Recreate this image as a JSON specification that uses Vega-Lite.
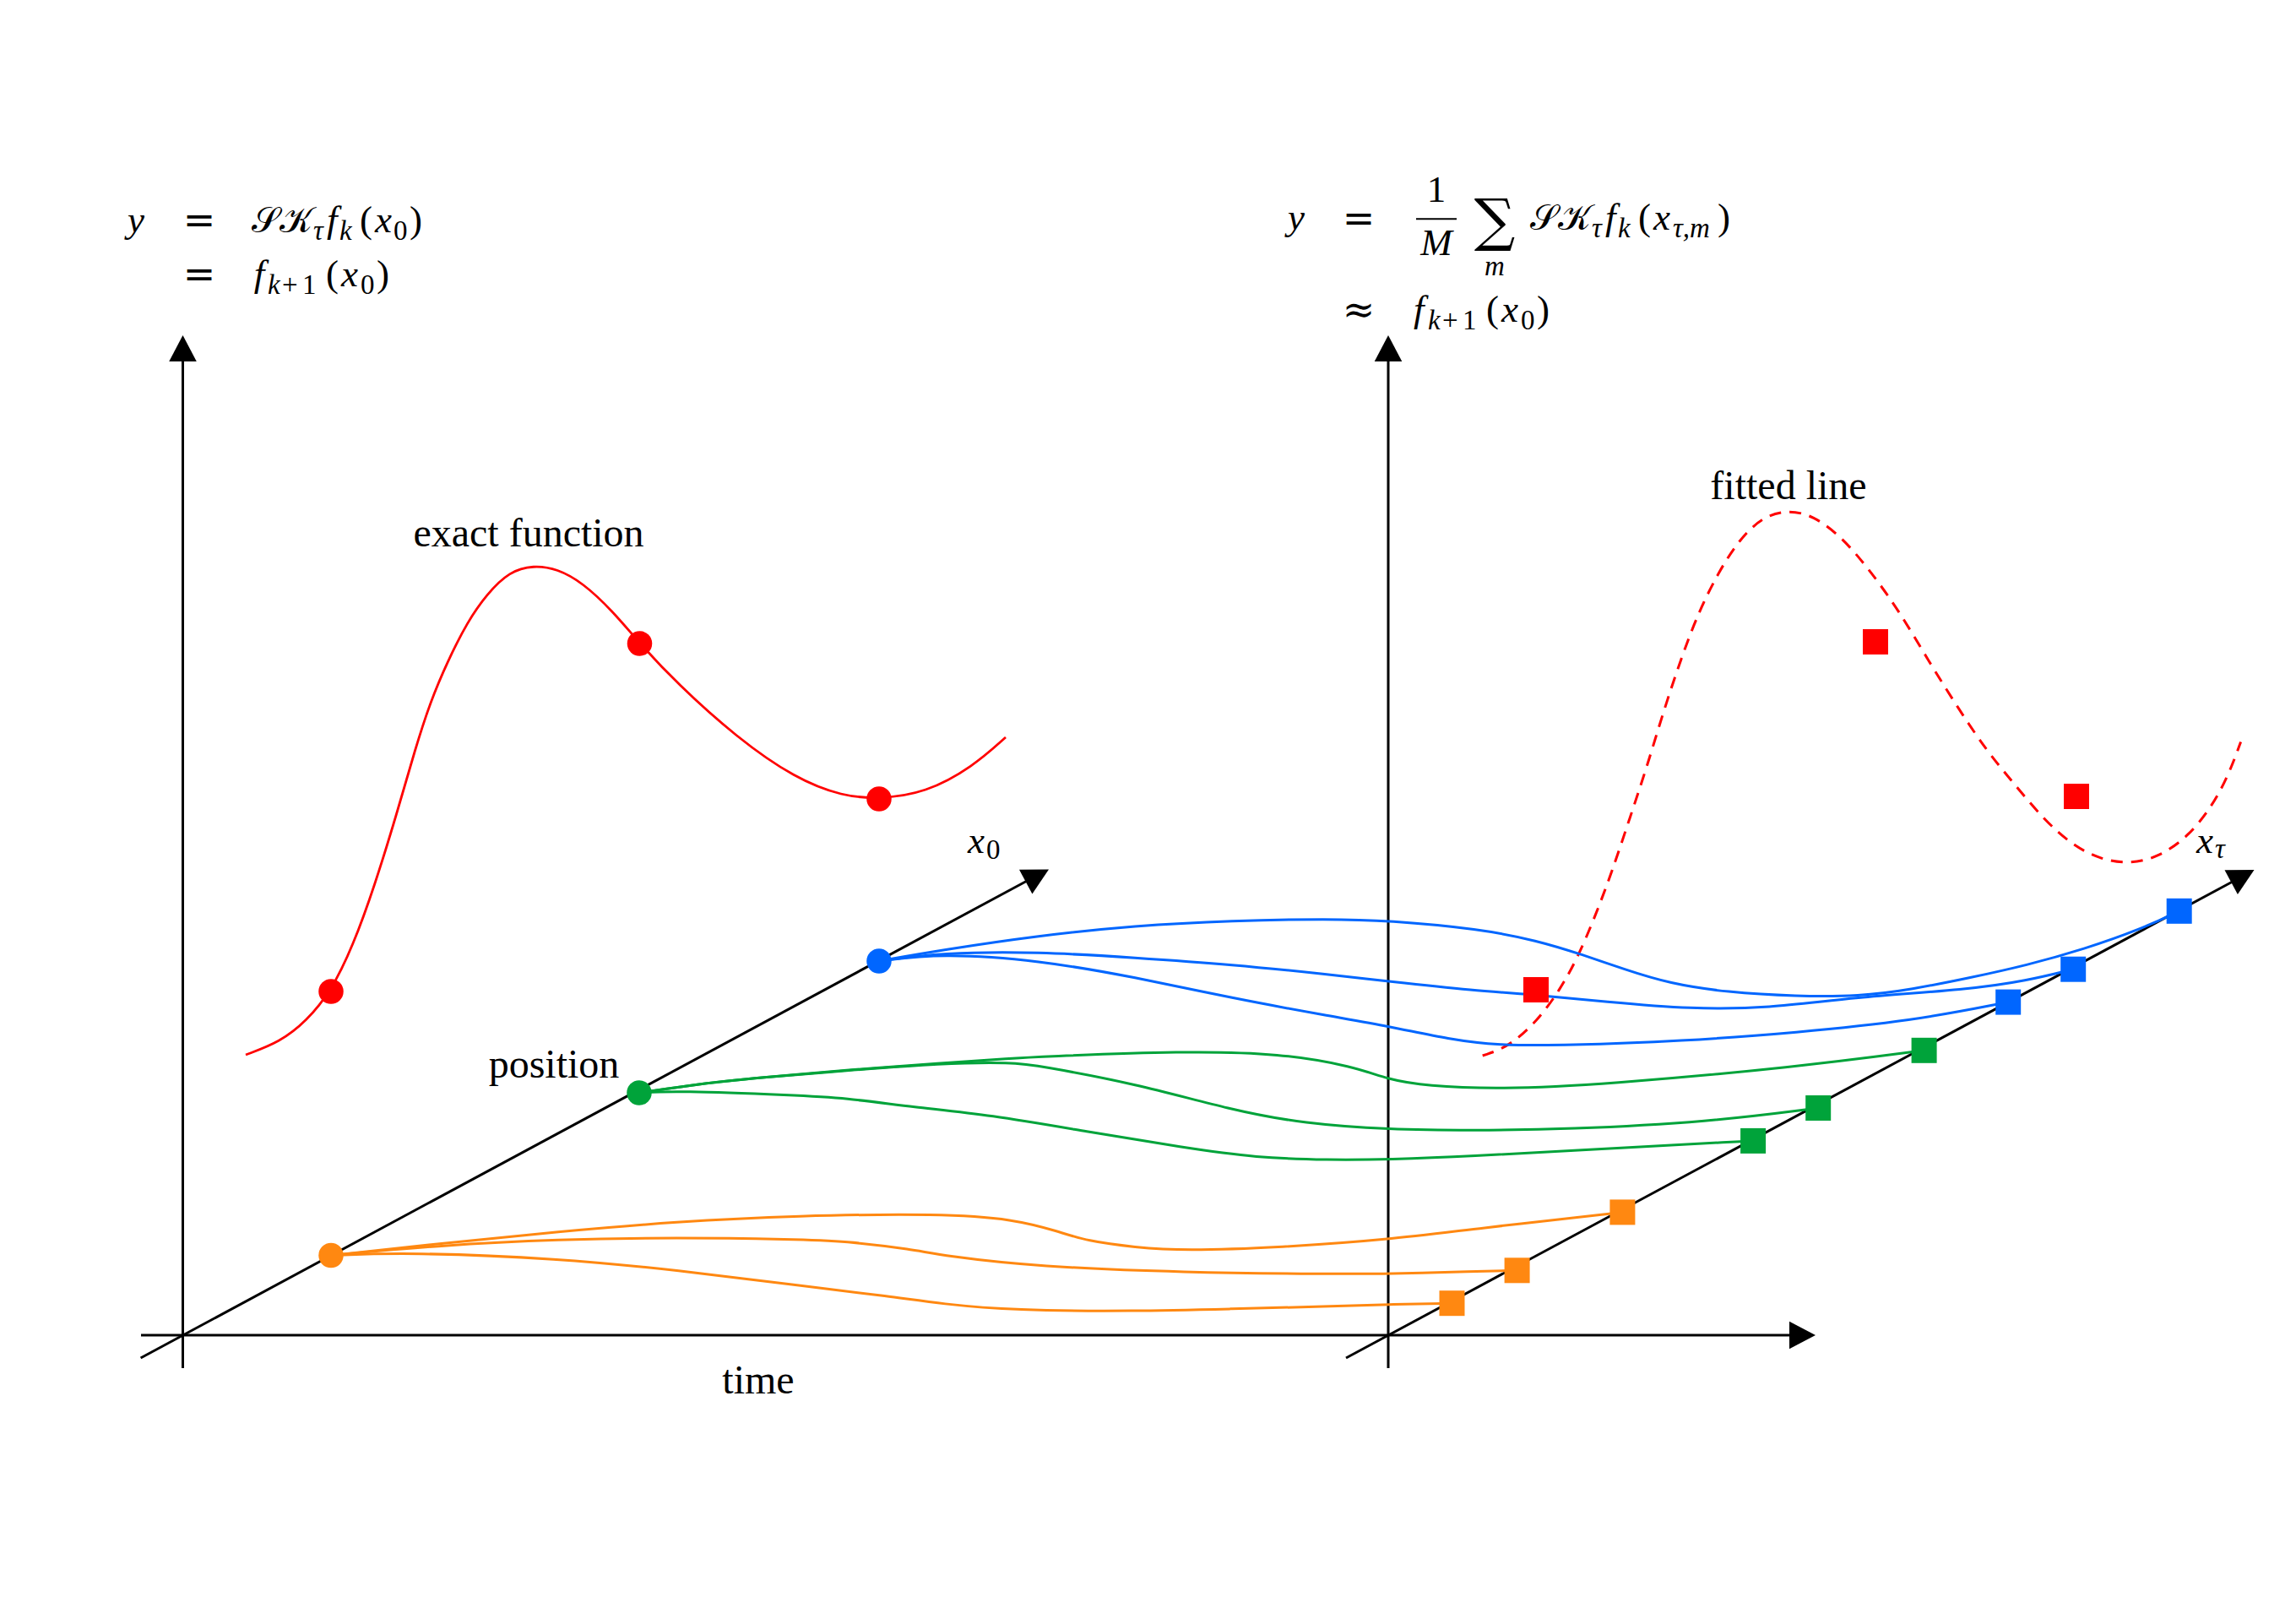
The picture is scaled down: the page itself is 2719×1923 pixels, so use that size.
{
  "$schema": "https://vega.github.io/schema/vega-lite/v6.json",
  "description": "Exact function vs fitted line from sampled trajectories (diagram)",
  "width": 2719,
  "height": 1923,
  "autosize": {"type": "fit", "contains": "padding"},
  "padding": 0,
  "background": "white",
  "config": {"view": {"stroke": null}},
  "datasets": {
    "axes": [
      {"id": "yl", "x": 216.5, "y": 1620}, {"id": "yl", "x": 216.5, "y": 425},
      {"id": "yr", "x": 1644, "y": 1620}, {"id": "yr", "x": 1644, "y": 425},
      {"id": "t", "x": 167, "y": 1581}, {"id": "t", "x": 2125, "y": 1581},
      {"id": "dl", "x": 166.6, "y": 1608}, {"id": "dl", "x": 1220, "y": 1041},
      {"id": "dr", "x": 1594, "y": 1608}, {"id": "dr", "x": 2647.5, "y": 1042}
    ],
    "heads": [
      {"x": 216.5, "y": 397, "angle": 0},
      {"x": 1644, "y": 397, "angle": 0},
      {"x": 2150, "y": 1581, "angle": 90},
      {"x": 1242, "y": 1029.5, "angle": 61.7},
      {"x": 2669.5, "y": 1030, "angle": 61.7}
    ],
    "exact": [
      {"x": 291, "y": 1249}, {"x": 331.5, "y": 1234}, {"x": 363, "y": 1209}, {"x": 392, "y": 1174},
      {"x": 418, "y": 1120}, {"x": 443.3, "y": 1050}, {"x": 470, "y": 963.3}, {"x": 491.7, "y": 886.7},
      {"x": 510, "y": 830}, {"x": 530, "y": 783.3}, {"x": 553.3, "y": 736.7}, {"x": 576.7, "y": 703.3},
      {"x": 603.3, "y": 676.7}, {"x": 631.7, "y": 669.3}, {"x": 660, "y": 673.5}, {"x": 690, "y": 690},
      {"x": 725, "y": 723}, {"x": 757.7, "y": 762}, {"x": 801.5, "y": 809}, {"x": 872, "y": 873},
      {"x": 942, "y": 922}, {"x": 998, "y": 943}, {"x": 1041, "y": 946}, {"x": 1096, "y": 939},
      {"x": 1152, "y": 908}, {"x": 1191, "y": 873}
    ],
    "fitted": [
      {"x": 1755.7, "y": 1250}, {"x": 1786.4, "y": 1239.8}, {"x": 1820.5, "y": 1209.1}, {"x": 1847.7, "y": 1171.6},
      {"x": 1868.2, "y": 1134.1}, {"x": 1888.6, "y": 1086.3}, {"x": 1909.1, "y": 1031.8}, {"x": 1929.5, "y": 970.4},
      {"x": 1950, "y": 909.1}, {"x": 1970.4, "y": 840.9}, {"x": 1990.9, "y": 779.5}, {"x": 2011.4, "y": 725},
      {"x": 2035.2, "y": 677.3}, {"x": 2059.1, "y": 639.8}, {"x": 2086.4, "y": 612.5}, {"x": 2117, "y": 603.6},
      {"x": 2147.7, "y": 610.5}, {"x": 2181.8, "y": 636.4}, {"x": 2215.9, "y": 677.3}, {"x": 2250, "y": 725},
      {"x": 2284.1, "y": 783}, {"x": 2318.2, "y": 837.5}, {"x": 2352.3, "y": 888.6}, {"x": 2386.3, "y": 929.5},
      {"x": 2420.4, "y": 970.4}, {"x": 2454.5, "y": 1001.1}, {"x": 2488.6, "y": 1018.2}, {"x": 2522.7, "y": 1022.9},
      {"x": 2556.8, "y": 1014.8}, {"x": 2590.9, "y": 990.9}, {"x": 2618.2, "y": 956.8}, {"x": 2638.6, "y": 919.3},
      {"x": 2653.6, "y": 878.4}
    ],
    "paths": [
      {"id": "o1", "grp": "orange", "x": 392, "y": 1486.5}, {"id": "o1", "grp": "orange", "x": 486, "y": 1483},
      {"id": "o1", "grp": "orange", "x": 661, "y": 1490}, {"id": "o1", "grp": "orange", "x": 801.5, "y": 1504},
      {"id": "o1", "grp": "orange", "x": 942, "y": 1521.6}, {"id": "o1", "grp": "orange", "x": 1057, "y": 1535.5},
      {"id": "o1", "grp": "orange", "x": 1115, "y": 1544}, {"id": "o1", "grp": "orange", "x": 1200, "y": 1551.7},
      {"id": "o1", "grp": "orange", "x": 1344, "y": 1552.7}, {"id": "o1", "grp": "orange", "x": 1459, "y": 1549.8},
      {"id": "o1", "grp": "orange", "x": 1574, "y": 1547}, {"id": "o1", "grp": "orange", "x": 1644, "y": 1544.5},
      {"id": "o1", "grp": "orange", "x": 1720, "y": 1543.2},

      {"id": "o2", "grp": "orange", "x": 392, "y": 1486.5}, {"id": "o2", "grp": "orange", "x": 521, "y": 1474.6},
      {"id": "o2", "grp": "orange", "x": 661, "y": 1467.5}, {"id": "o2", "grp": "orange", "x": 801.5, "y": 1465.4},
      {"id": "o2", "grp": "orange", "x": 942, "y": 1467.5}, {"id": "o2", "grp": "orange", "x": 1000, "y": 1469.5},
      {"id": "o2", "grp": "orange", "x": 1082, "y": 1479.5}, {"id": "o2", "grp": "orange", "x": 1115, "y": 1486.7},
      {"id": "o2", "grp": "orange", "x": 1230, "y": 1500}, {"id": "o2", "grp": "orange", "x": 1402, "y": 1506.8},
      {"id": "o2", "grp": "orange", "x": 1574, "y": 1508.5}, {"id": "o2", "grp": "orange", "x": 1644, "y": 1508.5},
      {"id": "o2", "grp": "orange", "x": 1746, "y": 1505.5}, {"id": "o2", "grp": "orange", "x": 1797, "y": 1504.3},

      {"id": "o3", "grp": "orange", "x": 392, "y": 1486.5}, {"id": "o3", "grp": "orange", "x": 521, "y": 1472.5},
      {"id": "o3", "grp": "orange", "x": 661, "y": 1458.4}, {"id": "o3", "grp": "orange", "x": 801.5, "y": 1446.5},
      {"id": "o3", "grp": "orange", "x": 942, "y": 1439.5}, {"id": "o3", "grp": "orange", "x": 1115, "y": 1437},
      {"id": "o3", "grp": "orange", "x": 1201, "y": 1443.6}, {"id": "o3", "grp": "orange", "x": 1253, "y": 1458},
      {"id": "o3", "grp": "orange", "x": 1287, "y": 1469.5}, {"id": "o3", "grp": "orange", "x": 1344, "y": 1477},
      {"id": "o3", "grp": "orange", "x": 1402, "y": 1481}, {"id": "o3", "grp": "orange", "x": 1517, "y": 1477},
      {"id": "o3", "grp": "orange", "x": 1644, "y": 1468}, {"id": "o3", "grp": "orange", "x": 1746, "y": 1455},
      {"id": "o3", "grp": "orange", "x": 1921.4, "y": 1435.4},

      {"id": "g1", "grp": "green", "x": 757, "y": 1294}, {"id": "g1", "grp": "green", "x": 801.5, "y": 1291.5},
      {"id": "g1", "grp": "green", "x": 942, "y": 1297}, {"id": "g1", "grp": "green", "x": 1000, "y": 1300},
      {"id": "g1", "grp": "green", "x": 1082, "y": 1311}, {"id": "g1", "grp": "green", "x": 1172, "y": 1320},
      {"id": "g1", "grp": "green", "x": 1287, "y": 1340}, {"id": "g1", "grp": "green", "x": 1402, "y": 1359},
      {"id": "g1", "grp": "green", "x": 1488, "y": 1371}, {"id": "g1", "grp": "green", "x": 1574, "y": 1373.6},
      {"id": "g1", "grp": "green", "x": 1644, "y": 1373}, {"id": "g1", "grp": "green", "x": 1746, "y": 1369},
      {"id": "g1", "grp": "green", "x": 1855, "y": 1362.5}, {"id": "g1", "grp": "green", "x": 2076.1, "y": 1350.9},

      {"id": "g2", "grp": "green", "x": 757, "y": 1294}, {"id": "g2", "grp": "green", "x": 830, "y": 1283},
      {"id": "g2", "grp": "green", "x": 900, "y": 1276}, {"id": "g2", "grp": "green", "x": 1000, "y": 1268},
      {"id": "g2", "grp": "green", "x": 1115, "y": 1259}, {"id": "g2", "grp": "green", "x": 1200, "y": 1258},
      {"id": "g2", "grp": "green", "x": 1230, "y": 1262}, {"id": "g2", "grp": "green", "x": 1344, "y": 1283},
      {"id": "g2", "grp": "green", "x": 1459, "y": 1314.5}, {"id": "g2", "grp": "green", "x": 1545, "y": 1330.6},
      {"id": "g2", "grp": "green", "x": 1644, "y": 1337.5}, {"id": "g2", "grp": "green", "x": 1746, "y": 1338.6},
      {"id": "g2", "grp": "green", "x": 1855, "y": 1337.3}, {"id": "g2", "grp": "green", "x": 2025, "y": 1328.4},
      {"id": "g2", "grp": "green", "x": 2153.2, "y": 1312},

      {"id": "g3", "grp": "green", "x": 757, "y": 1294}, {"id": "g3", "grp": "green", "x": 830, "y": 1283},
      {"id": "g3", "grp": "green", "x": 900, "y": 1276}, {"id": "g3", "grp": "green", "x": 1000, "y": 1267},
      {"id": "g3", "grp": "green", "x": 1115, "y": 1259}, {"id": "g3", "grp": "green", "x": 1200, "y": 1253},
      {"id": "g3", "grp": "green", "x": 1230, "y": 1251.4}, {"id": "g3", "grp": "green", "x": 1402, "y": 1244.5},
      {"id": "g3", "grp": "green", "x": 1517, "y": 1247.3}, {"id": "g3", "grp": "green", "x": 1603, "y": 1262.8},
      {"id": "g3", "grp": "green", "x": 1644, "y": 1278.3}, {"id": "g3", "grp": "green", "x": 1689, "y": 1285.8},
      {"id": "g3", "grp": "green", "x": 1775, "y": 1289.8}, {"id": "g3", "grp": "green", "x": 1900, "y": 1284.1},
      {"id": "g3", "grp": "green", "x": 2127, "y": 1263.6}, {"id": "g3", "grp": "green", "x": 2278.6, "y": 1243.8},

      {"id": "b1", "grp": "blue", "x": 1041, "y": 1138}, {"id": "b1", "grp": "blue", "x": 1115, "y": 1129},
      {"id": "b1", "grp": "blue", "x": 1230, "y": 1137}, {"id": "b1", "grp": "blue", "x": 1344, "y": 1157},
      {"id": "b1", "grp": "blue", "x": 1459, "y": 1182}, {"id": "b1", "grp": "blue", "x": 1574, "y": 1203},
      {"id": "b1", "grp": "blue", "x": 1644, "y": 1215}, {"id": "b1", "grp": "blue", "x": 1718, "y": 1231},
      {"id": "b1", "grp": "blue", "x": 1773, "y": 1237.7}, {"id": "b1", "grp": "blue", "x": 1855, "y": 1238},
      {"id": "b1", "grp": "blue", "x": 1991, "y": 1233}, {"id": "b1", "grp": "blue", "x": 2127, "y": 1222.7},
      {"id": "b1", "grp": "blue", "x": 2264, "y": 1209}, {"id": "b1", "grp": "blue", "x": 2378.2, "y": 1186.6},

      {"id": "b2", "grp": "blue", "x": 1041, "y": 1138}, {"id": "b2", "grp": "blue", "x": 1115, "y": 1128},
      {"id": "b2", "grp": "blue", "x": 1230, "y": 1127}, {"id": "b2", "grp": "blue", "x": 1344, "y": 1134},
      {"id": "b2", "grp": "blue", "x": 1459, "y": 1142}, {"id": "b2", "grp": "blue", "x": 1574, "y": 1154},
      {"id": "b2", "grp": "blue", "x": 1644, "y": 1162}, {"id": "b2", "grp": "blue", "x": 1746, "y": 1173},
      {"id": "b2", "grp": "blue", "x": 1819, "y": 1178}, {"id": "b2", "grp": "blue", "x": 1900, "y": 1186},
      {"id": "b2", "grp": "blue", "x": 2004, "y": 1195}, {"id": "b2", "grp": "blue", "x": 2093, "y": 1194},
      {"id": "b2", "grp": "blue", "x": 2195, "y": 1181}, {"id": "b2", "grp": "blue", "x": 2332, "y": 1171.6},
      {"id": "b2", "grp": "blue", "x": 2400, "y": 1161.3}, {"id": "b2", "grp": "blue", "x": 2455.2, "y": 1147.7},

      {"id": "b3", "grp": "blue", "x": 1041, "y": 1138}, {"id": "b3", "grp": "blue", "x": 1115, "y": 1125},
      {"id": "b3", "grp": "blue", "x": 1230, "y": 1108}, {"id": "b3", "grp": "blue", "x": 1344, "y": 1096},
      {"id": "b3", "grp": "blue", "x": 1459, "y": 1090}, {"id": "b3", "grp": "blue", "x": 1574, "y": 1088},
      {"id": "b3", "grp": "blue", "x": 1644, "y": 1090}, {"id": "b3", "grp": "blue", "x": 1752, "y": 1100},
      {"id": "b3", "grp": "blue", "x": 1820, "y": 1113.6}, {"id": "b3", "grp": "blue", "x": 1875, "y": 1130.7},
      {"id": "b3", "grp": "blue", "x": 1923, "y": 1147.7}, {"id": "b3", "grp": "blue", "x": 1977, "y": 1164.7},
      {"id": "b3", "grp": "blue", "x": 2045, "y": 1175}, {"id": "b3", "grp": "blue", "x": 2127, "y": 1179.8},
      {"id": "b3", "grp": "blue", "x": 2202, "y": 1179.8}, {"id": "b3", "grp": "blue", "x": 2264, "y": 1171.6},
      {"id": "b3", "grp": "blue", "x": 2332, "y": 1158}, {"id": "b3", "grp": "blue", "x": 2400, "y": 1143},
      {"id": "b3", "grp": "blue", "x": 2468, "y": 1124}, {"id": "b3", "grp": "blue", "x": 2536, "y": 1100},
      {"id": "b3", "grp": "blue", "x": 2580.7, "y": 1078.8}
    ],
    "dots": [
      {"grp": "red", "x": 392, "y": 1174}, {"grp": "red", "x": 757.5, "y": 762}, {"grp": "red", "x": 1041, "y": 946},
      {"grp": "orange", "x": 392, "y": 1486.5}, {"grp": "green", "x": 757, "y": 1294}, {"grp": "blue", "x": 1041, "y": 1138}
    ],
    "squares": [
      {"grp": "orange", "x": 1719.5, "y": 1543.2}, {"grp": "orange", "x": 1796.6, "y": 1504.3}, {"grp": "orange", "x": 1921.4, "y": 1435.4},
      {"grp": "green", "x": 2076.1, "y": 1350.9}, {"grp": "green", "x": 2153.2, "y": 1312}, {"grp": "green", "x": 2278.6, "y": 1243.8},
      {"grp": "blue", "x": 2378.2, "y": 1186.6}, {"grp": "blue", "x": 2455.2, "y": 1147.7}, {"grp": "blue", "x": 2580.7, "y": 1078.8},
      {"grp": "red", "x": 1819, "y": 1172}, {"grp": "red", "x": 2221, "y": 760}, {"grp": "red", "x": 2459, "y": 943}
    ],
    "bar": [{"x": 1677, "x2": 1725, "y": 259.2}],
    "texts": [
      {"role": "txt", "t": "exact function", "x": 626, "y": 647},
      {"role": "txt", "t": "fitted line", "x": 2118, "y": 591},
      {"role": "txt", "t": "position", "x": 656, "y": 1276},
      {"role": "txt", "t": "time", "x": 898, "y": 1650},

      {"role": "mi", "t": "x", "x": 1146, "y": 1010},
      {"role": "sr", "t": "0", "x": 1168, "y": 1017},
      {"role": "mi", "t": "x", "x": 2601, "y": 1010},
      {"role": "si", "t": "τ", "x": 2623, "y": 1016},

      {"role": "mic", "t": "y", "x": 161, "y": 274.5},
      {"role": "op", "t": "=", "x": 236, "y": 276},
      {"role": "cal", "t": "𝒮𝒦", "x": 298, "y": 274.5},
      {"role": "si", "t": "τ", "x": 371, "y": 283.5},
      {"role": "mi", "t": "f", "x": 387, "y": 274.5},
      {"role": "si", "t": "k", "x": 402, "y": 283.5},
      {"role": "mr", "t": "(", "x": 426, "y": 274.5},
      {"role": "mi", "t": "x", "x": 444, "y": 274.5},
      {"role": "sr", "t": "0", "x": 466, "y": 283.5},
      {"role": "mr", "t": ")", "x": 485, "y": 274.5},
      {"role": "op", "t": "=", "x": 236, "y": 340},
      {"role": "mi", "t": "f", "x": 300.7, "y": 338.5},
      {"role": "si", "t": "k", "x": 317, "y": 347.5},
      {"role": "sr", "t": "+", "x": 334, "y": 347.5},
      {"role": "sr", "t": "1", "x": 358, "y": 347.5},
      {"role": "mr", "t": "(", "x": 386, "y": 338.5},
      {"role": "mi", "t": "x", "x": 404, "y": 338.5},
      {"role": "sr", "t": "0", "x": 427, "y": 347.5},
      {"role": "mr", "t": ")", "x": 446, "y": 338.5},

      {"role": "mic", "t": "y", "x": 1535, "y": 272},
      {"role": "op", "t": "=", "x": 1609, "y": 273.5},
      {"role": "mrc", "t": "1", "x": 1701, "y": 239.3},
      {"role": "mic", "t": "M", "x": 1701, "y": 301.7},
      {"role": "big", "t": "∑", "x": 1770, "y": 284},
      {"role": "sic", "t": "m", "x": 1770, "y": 326},
      {"role": "cal", "t": "𝒮𝒦", "x": 1812, "y": 272},
      {"role": "si", "t": "τ", "x": 1885, "y": 281},
      {"role": "mi", "t": "f", "x": 1901, "y": 272},
      {"role": "si", "t": "k", "x": 1916, "y": 281},
      {"role": "mr", "t": "(", "x": 1940, "y": 272},
      {"role": "mi", "t": "x", "x": 1958, "y": 272},
      {"role": "si", "t": "τ,m", "x": 1981, "y": 281},
      {"role": "mr", "t": ")", "x": 2034, "y": 272},
      {"role": "op", "t": "≈", "x": 1609, "y": 382},
      {"role": "mi", "t": "f", "x": 1674, "y": 380.6},
      {"role": "si", "t": "k", "x": 1691, "y": 389.6},
      {"role": "sr", "t": "+", "x": 1708, "y": 389.6},
      {"role": "sr", "t": "1", "x": 1732, "y": 389.6},
      {"role": "mr", "t": "(", "x": 1760, "y": 380.6},
      {"role": "mi", "t": "x", "x": 1778, "y": 380.6},
      {"role": "sr", "t": "0", "x": 1801, "y": 389.6},
      {"role": "mr", "t": ")", "x": 1820, "y": 380.6}
    ]
  },
  "encoding": {
    "x": {"field": "x", "type": "quantitative", "scale": {"domain": [0, 2719], "nice": false, "zero": false}, "axis": null},
    "y": {"field": "y", "type": "quantitative", "scale": {"domain": [0, 1923], "nice": false, "zero": false, "reverse": true}, "axis": null}
  },
  "layer": [
    {
      "data": {"name": "axes"},
      "mark": {"type": "line", "color": "black", "strokeWidth": 3},
      "encoding": {"detail": {"field": "id"}}
    },
    {
      "data": {"name": "heads"},
      "mark": {"type": "point", "shape": "M0,0L1.05,2L-1.05,2Z", "filled": true, "color": "black", "opacity": 1, "size": 961, "strokeWidth": 0},
      "encoding": {"angle": {"field": "angle", "type": "quantitative", "scale": null}}
    },
    {
      "data": {"name": "fitted"},
      "mark": {"type": "line", "color": "#FF0000", "strokeWidth": 3, "strokeDash": [14, 10], "interpolate": "basis"},
      "encoding": {}
    },
    {
      "data": {"name": "exact"},
      "mark": {"type": "line", "color": "#FF0000", "strokeWidth": 2.8, "interpolate": "basis"},
      "encoding": {}
    },
    {
      "data": {"name": "paths"},
      "mark": {"type": "line", "strokeWidth": 3, "interpolate": "basis"},
      "encoding": {
        "detail": {"field": "id"},
        "color": {"field": "grp", "type": "nominal", "legend": null,
          "scale": {"domain": ["red", "orange", "green", "blue"], "range": ["#FF0000", "#FF8811", "#00A33A", "#0066FF"]}}
      }
    },
    {
      "data": {"name": "bar"},
      "mark": {"type": "rule", "color": "black", "strokeWidth": 2},
      "encoding": {"x2": {"field": "x2"}}
    },
    {
      "data": {"name": "dots"},
      "mark": {"type": "point", "shape": "circle", "filled": true, "opacity": 1, "size": 870, "strokeWidth": 0},
      "encoding": {
        "color": {"field": "grp", "type": "nominal", "legend": null,
          "scale": {"domain": ["red", "orange", "green", "blue"], "range": ["#FF0000", "#FF8811", "#00A33A", "#0066FF"]}}
      }
    },
    {
      "data": {"name": "squares"},
      "mark": {"type": "point", "shape": "square", "filled": true, "opacity": 1, "size": 900, "strokeWidth": 0},
      "encoding": {
        "color": {"field": "grp", "type": "nominal", "legend": null,
          "scale": {"domain": ["red", "orange", "green", "blue"], "range": ["#FF0000", "#FF8811", "#00A33A", "#0066FF"]}}
      }
    },
    {
      "data": {"name": "texts"},
      "transform": [{"filter": "datum.role === 'txt'"}],
      "mark": {"type": "text", "font": "Liberation Serif", "fontSize": 48, "align": "center", "baseline": "alphabetic", "color": "black"},
      "encoding": {"text": {"field": "t"}}
    },
    {
      "data": {"name": "texts"},
      "transform": [{"filter": "datum.role === 'mi'"}],
      "mark": {"type": "text", "font": "Liberation Serif", "fontStyle": "italic", "fontSize": 45, "align": "left", "baseline": "alphabetic", "color": "black"},
      "encoding": {"text": {"field": "t"}}
    },
    {
      "data": {"name": "texts"},
      "transform": [{"filter": "datum.role === 'mic'"}],
      "mark": {"type": "text", "font": "Liberation Serif", "fontStyle": "italic", "fontSize": 45, "align": "center", "baseline": "alphabetic", "color": "black"},
      "encoding": {"text": {"field": "t"}}
    },
    {
      "data": {"name": "texts"},
      "transform": [{"filter": "datum.role === 'mr'"}],
      "mark": {"type": "text", "font": "Liberation Serif", "fontSize": 45, "align": "left", "baseline": "alphabetic", "color": "black"},
      "encoding": {"text": {"field": "t"}}
    },
    {
      "data": {"name": "texts"},
      "transform": [{"filter": "datum.role === 'mrc'"}],
      "mark": {"type": "text", "font": "Liberation Serif", "fontSize": 45, "align": "center", "baseline": "alphabetic", "color": "black"},
      "encoding": {"text": {"field": "t"}}
    },
    {
      "data": {"name": "texts"},
      "transform": [{"filter": "datum.role === 'op'"}],
      "mark": {"type": "text", "font": "DejaVu Serif", "fontSize": 46, "align": "center", "baseline": "alphabetic", "color": "black"},
      "encoding": {"text": {"field": "t"}}
    },
    {
      "data": {"name": "texts"},
      "transform": [{"filter": "datum.role === 'si'"}],
      "mark": {"type": "text", "font": "Liberation Serif", "fontStyle": "italic", "fontSize": 33, "align": "left", "baseline": "alphabetic", "color": "black"},
      "encoding": {"text": {"field": "t"}}
    },
    {
      "data": {"name": "texts"},
      "transform": [{"filter": "datum.role === 'sic'"}],
      "mark": {"type": "text", "font": "Liberation Serif", "fontStyle": "italic", "fontSize": 33, "align": "center", "baseline": "alphabetic", "color": "black"},
      "encoding": {"text": {"field": "t"}}
    },
    {
      "data": {"name": "texts"},
      "transform": [{"filter": "datum.role === 'sr'"}],
      "mark": {"type": "text", "font": "Liberation Serif", "fontSize": 33, "align": "left", "baseline": "alphabetic", "color": "black"},
      "encoding": {"text": {"field": "t"}}
    },
    {
      "data": {"name": "texts"},
      "transform": [{"filter": "datum.role === 'big'"}],
      "mark": {"type": "text", "font": "DejaVu Serif", "fontSize": 68, "align": "center", "baseline": "alphabetic", "color": "black"},
      "encoding": {"text": {"field": "t"}}
    },
    {
      "data": {"name": "texts"},
      "transform": [{"filter": "datum.role === 'cal'"}],
      "mark": {"type": "text", "font": "DejaVu Serif", "fontSize": 42, "align": "left", "baseline": "alphabetic", "color": "black"},
      "encoding": {"text": {"field": "t"}}
    }
  ]
}
